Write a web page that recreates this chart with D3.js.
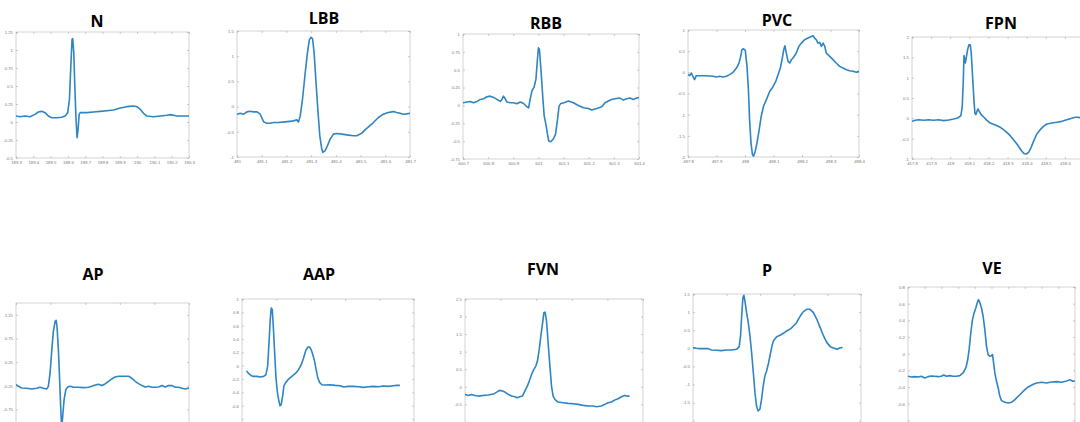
<!DOCTYPE html>
<html><head><meta charset="utf-8">
<script src="https://cdn.jsdelivr.net/npm/d3@7"></script>
<style>html,body{margin:0;padding:0;background:#fff;overflow:hidden}</style>
</head><body>
<svg id="chart" width="1080" height="422"></svg>
<script>
// ---------- DATA ----------
const titles = ["N", "LBB", "RBB", "PVC", "FPN", "AP", "AAP", "FVN", "P", "VE"];

// [time (s), amplitude (mV)]
const sigN = [[189.300,0.083],[189.323,0.074],[189.352,0.083],[189.381,0.074],[189.410,0.106],[189.429,0.139],[189.449,0.148],[189.468,0.130],[189.487,0.083],[189.507,0.060],[189.536,0.060],[189.564,0.065],[189.584,0.083],[189.599,0.130],[189.609,0.315],[189.617,0.778],[189.624,1.148],[189.628,1.157],[189.634,0.963],[189.640,0.500],[189.647,0.037],[189.653,-0.218],[189.659,-0.102],[189.665,0.106],[189.671,0.130],[189.709,0.130],[189.748,0.139],[189.786,0.148],[189.825,0.157],[189.864,0.167],[189.902,0.194],[189.941,0.213],[189.980,0.222],[189.999,0.213],[190.018,0.176],[190.037,0.120],[190.057,0.083],[190.095,0.074],[190.134,0.083],[190.173,0.093],[190.192,0.102],[190.231,0.083],[190.269,0.083],[190.300,0.083]];

const sigLBB = [[481.000,-0.151],[481.013,-0.132],[481.027,-0.151],[481.040,-0.105],[481.054,-0.092],[481.067,-0.105],[481.081,-0.105],[481.094,-0.151],[481.108,-0.303],[481.121,-0.329],[481.135,-0.329],[481.148,-0.316],[481.168,-0.316],[481.195,-0.303],[481.222,-0.289],[481.242,-0.263],[481.249,-0.303],[481.256,-0.184],[481.265,0.145],[481.276,0.671],[481.285,1.066],[481.293,1.329],[481.300,1.375],[481.306,1.342],[481.312,1.066],[481.319,0.539],[481.327,-0.053],[481.335,-0.579],[481.343,-0.842],[481.347,-0.908],[481.357,-0.875],[481.366,-0.776],[481.377,-0.645],[481.390,-0.546],[481.404,-0.533],[481.424,-0.546],[481.451,-0.566],[481.471,-0.579],[481.485,-0.579],[481.505,-0.526],[481.518,-0.461],[481.532,-0.401],[481.552,-0.316],[481.572,-0.217],[481.592,-0.151],[481.612,-0.118],[481.633,-0.099],[481.646,-0.118],[481.660,-0.132],[481.673,-0.151],[481.687,-0.145],[481.700,-0.132]];

const sigRBB = [[600.700,0.037],[600.716,0.047],[600.729,0.056],[600.742,0.037],[600.756,0.056],[600.769,0.084],[600.782,0.093],[600.795,0.121],[600.808,0.130],[600.822,0.112],[600.835,0.084],[600.848,0.056],[600.855,0.084],[600.861,0.130],[600.868,0.093],[600.875,0.047],[600.888,0.037],[600.901,0.037],[600.914,0.023],[600.928,0.047],[600.941,0.028],[600.951,-0.009],[600.961,-0.033],[600.967,0.084],[600.974,0.200],[600.983,0.261],[600.990,0.364],[600.996,0.643],[601.000,0.807],[601.004,0.783],[601.010,0.503],[601.018,0.084],[601.023,-0.149],[601.031,-0.289],[601.036,-0.406],[601.041,-0.499],[601.049,-0.508],[601.060,-0.466],[601.068,-0.406],[601.076,-0.196],[601.082,-0.009],[601.089,0.028],[601.102,0.037],[601.119,0.061],[601.139,0.037],[601.159,0.000],[601.179,-0.033],[601.199,-0.042],[601.212,-0.065],[601.232,-0.042],[601.252,-0.019],[601.265,0.037],[601.278,0.061],[601.291,0.084],[601.305,0.093],[601.324,0.103],[601.338,0.075],[601.351,0.093],[601.364,0.103],[601.377,0.084],[601.391,0.103],[601.400,0.112]];

const sigPVC = [[497.800,-0.055],[497.806,-0.079],[497.812,-0.016],[497.818,-0.110],[497.823,-0.173],[497.829,-0.079],[497.841,-0.079],[497.858,-0.079],[497.876,-0.086],[497.888,-0.094],[497.899,-0.110],[497.911,-0.094],[497.923,-0.110],[497.935,-0.094],[497.946,-0.055],[497.958,0.000],[497.970,0.102],[497.979,0.220],[497.985,0.377],[497.989,0.534],[497.995,0.558],[498.001,0.518],[498.007,0.141],[498.012,-0.409],[498.016,-1.116],[498.021,-1.666],[498.026,-1.940],[498.030,-1.980],[498.036,-1.862],[498.042,-1.666],[498.049,-1.390],[498.057,-1.037],[498.065,-0.801],[498.075,-0.644],[498.087,-0.448],[498.098,-0.346],[498.108,-0.212],[498.116,-0.055],[498.124,0.102],[498.131,0.338],[498.136,0.534],[498.140,0.628],[498.145,0.456],[498.151,0.259],[498.157,0.220],[498.163,0.299],[498.171,0.361],[498.180,0.456],[498.189,0.613],[498.198,0.691],[498.209,0.770],[498.221,0.809],[498.233,0.848],[498.239,0.864],[498.244,0.809],[498.250,0.770],[498.256,0.691],[498.262,0.707],[498.268,0.613],[498.274,0.691],[498.280,0.613],[498.285,0.456],[498.297,0.377],[498.309,0.299],[498.320,0.220],[498.332,0.141],[498.344,0.102],[498.356,0.063],[498.367,0.039],[498.379,0.024],[498.391,0.000],[498.400,0.024]];

const sigFPN = [[417.800,-0.074],[417.817,-0.049],[417.835,-0.033],[417.861,-0.049],[417.887,-0.033],[417.913,-0.049],[417.939,-0.033],[417.965,-0.057],[417.992,-0.041],[418.018,-0.016],[418.039,0.008],[418.056,0.066],[418.063,0.295],[418.068,0.869],[418.072,1.541],[418.075,1.484],[418.079,1.361],[418.084,1.484],[418.091,1.689],[418.098,1.811],[418.105,1.811],[418.110,1.607],[418.117,1.033],[418.124,0.459],[418.129,0.131],[418.134,0.090],[418.140,0.172],[418.145,0.230],[418.152,0.172],[418.162,0.090],[418.175,0.033],[418.192,-0.049],[418.209,-0.115],[418.236,-0.164],[418.262,-0.221],[418.279,-0.279],[418.296,-0.344],[418.314,-0.426],[418.331,-0.525],[418.349,-0.631],[418.363,-0.730],[418.375,-0.811],[418.387,-0.869],[418.398,-0.877],[418.410,-0.836],[418.422,-0.730],[418.436,-0.566],[418.453,-0.385],[418.471,-0.279],[418.488,-0.197],[418.506,-0.139],[418.532,-0.115],[418.558,-0.098],[418.584,-0.074],[418.610,-0.033],[418.627,-0.008],[418.654,0.025],[418.671,0.025],[418.688,0.000],[418.701,-0.016]];

const sigAP = [[0,-0.225],[0.014,-0.261],[0.033,-0.296],[0.062,-0.303],[0.091,-0.317],[0.120,-0.303],[0.139,-0.282],[0.158,-0.303],[0.178,-0.317],[0.187,-0.261],[0.197,0.021],[0.207,0.514],[0.216,0.901],[0.226,1.113],[0.232,1.134],[0.237,1.007],[0.245,0.514],[0.253,-0.190],[0.259,-0.754],[0.264,-1.150],[0.270,-0.894],[0.278,-0.542],[0.288,-0.331],[0.299,-0.275],[0.313,-0.261],[0.332,-0.282],[0.361,-0.282],[0.390,-0.289],[0.419,-0.282],[0.438,-0.261],[0.458,-0.232],[0.477,-0.218],[0.496,-0.246],[0.515,-0.211],[0.535,-0.155],[0.554,-0.106],[0.573,-0.063],[0.593,-0.049],[0.622,-0.049],[0.651,-0.049],[0.670,-0.092],[0.689,-0.155],[0.708,-0.204],[0.728,-0.246],[0.747,-0.275],[0.766,-0.261],[0.786,-0.282],[0.805,-0.282],[0.824,-0.275],[0.844,-0.246],[0.863,-0.275],[0.882,-0.246],[0.902,-0.246],[0.921,-0.282],[0.940,-0.282],[0.959,-0.303],[0.979,-0.317],[1,-0.296]];

const sigAAP = [[0.029,-0.085],[0.039,-0.120],[0.054,-0.150],[0.068,-0.160],[0.087,-0.160],[0.106,-0.170],[0.126,-0.160],[0.139,-0.135],[0.149,-0.010],[0.157,0.340],[0.164,0.690],[0.170,0.865],[0.176,0.840],[0.182,0.590],[0.190,0.190],[0.197,-0.160],[0.205,-0.385],[0.213,-0.510],[0.221,-0.600],[0.228,-0.585],[0.236,-0.460],[0.244,-0.300],[0.255,-0.250],[0.271,-0.200],[0.290,-0.160],[0.309,-0.120],[0.329,-0.060],[0.344,0.015],[0.358,0.115],[0.371,0.230],[0.383,0.280],[0.393,0.280],[0.402,0.240],[0.412,0.165],[0.422,0.065],[0.431,-0.060],[0.441,-0.185],[0.451,-0.250],[0.464,-0.285],[0.484,-0.290],[0.513,-0.285],[0.542,-0.295],[0.571,-0.300],[0.590,-0.320],[0.619,-0.310],[0.648,-0.310],[0.677,-0.315],[0.706,-0.325],[0.735,-0.315],[0.764,-0.310],[0.793,-0.315],[0.822,-0.305],[0.851,-0.310],[0.880,-0.300],[0.899,-0.295],[0.915,-0.295]];

const sigFVN = [[0,-0.218],[0.019,-0.247],[0.037,-0.218],[0.056,-0.247],[0.075,-0.266],[0.103,-0.247],[0.131,-0.237],[0.159,-0.209],[0.178,-0.152],[0.193,-0.104],[0.206,-0.114],[0.224,-0.152],[0.243,-0.218],[0.262,-0.266],[0.280,-0.285],[0.293,-0.313],[0.308,-0.285],[0.323,-0.266],[0.336,-0.123],[0.350,0.019],[0.361,0.161],[0.374,0.351],[0.387,0.493],[0.398,0.588],[0.407,0.731],[0.417,1.063],[0.426,1.442],[0.436,1.822],[0.443,2.106],[0.450,2.125],[0.458,1.869],[0.467,1.252],[0.477,0.588],[0.486,0.019],[0.495,-0.266],[0.505,-0.361],[0.523,-0.436],[0.551,-0.455],[0.579,-0.474],[0.607,-0.484],[0.636,-0.503],[0.664,-0.531],[0.692,-0.550],[0.720,-0.550],[0.738,-0.569],[0.766,-0.550],[0.785,-0.503],[0.804,-0.455],[0.822,-0.436],[0.841,-0.380],[0.860,-0.342],[0.879,-0.285],[0.897,-0.247],[0.910,-0.266],[0.921,-0.266]];

const sigP = [[0,0.018],[0.020,0.000],[0.040,-0.009],[0.070,-0.009],[0.090,-0.009],[0.110,-0.046],[0.139,-0.055],[0.169,-0.064],[0.199,-0.046],[0.229,-0.046],[0.259,-0.028],[0.275,0.046],[0.283,0.341],[0.291,0.985],[0.297,1.400],[0.303,1.464],[0.309,1.308],[0.319,0.985],[0.329,0.709],[0.339,0.341],[0.349,-0.120],[0.359,-0.672],[0.369,-1.225],[0.378,-1.593],[0.388,-1.731],[0.398,-1.685],[0.408,-1.409],[0.418,-1.041],[0.428,-0.764],[0.438,-0.626],[0.448,-0.442],[0.458,-0.212],[0.468,0.018],[0.478,0.203],[0.498,0.322],[0.518,0.359],[0.538,0.414],[0.558,0.479],[0.582,0.543],[0.598,0.617],[0.614,0.691],[0.627,0.801],[0.641,0.912],[0.657,1.013],[0.677,1.077],[0.697,1.077],[0.717,0.985],[0.737,0.801],[0.757,0.571],[0.777,0.341],[0.797,0.157],[0.817,0.046],[0.837,0.009],[0.857,-0.028],[0.873,0.009],[0.886,0.018]];

const sigVE = [[0,-0.272],[0.02,-0.280],[0.04,-0.276],[0.06,-0.280],[0.08,-0.272],[0.10,-0.292],[0.12,-0.276],[0.14,-0.268],[0.16,-0.272],[0.18,-0.276],[0.20,-0.272],[0.214,-0.256],[0.23,-0.272],[0.25,-0.264],[0.27,-0.272],[0.29,-0.272],[0.31,-0.264],[0.33,-0.232],[0.346,-0.172],[0.356,-0.092],[0.366,0.048],[0.376,0.248],[0.386,0.408],[0.396,0.488],[0.406,0.548],[0.414,0.608],[0.422,0.648],[0.43,0.616],[0.44,0.548],[0.45,0.448],[0.46,0.288],[0.47,0.088],[0.48,-0.012],[0.49,-0.032],[0.50,-0.024],[0.506,-0.012],[0.51,-0.072],[0.52,-0.232],[0.53,-0.332],[0.54,-0.412],[0.55,-0.512],[0.56,-0.564],[0.58,-0.584],[0.60,-0.592],[0.62,-0.584],[0.64,-0.552],[0.66,-0.512],[0.68,-0.472],[0.70,-0.432],[0.72,-0.400],[0.75,-0.368],[0.77,-0.352],[0.80,-0.344],[0.83,-0.352],[0.86,-0.340],[0.89,-0.336],[0.92,-0.344],[0.95,-0.328],[0.97,-0.312],[0.986,-0.332],[1,-0.328]];

const signals = [sigN, sigLBB, sigRBB, sigPVC, sigFPN, sigAP, sigAAP, sigFVN, sigP, sigVE];

// axis ranges and tick steps per panel
const xDomains = [[189.3,190.3],[481,481.7],[600.7,601.4],[497.8,498.4],[417.8,418.7],[0,1],[0,1],[0,1],[0,1],[0,1]];
const xSteps   = [0.1,0.1,0.1,0.1,0.1,0.2,0.2,0.2,0.2,0.1];
const yDomains = [[-0.5,1.25],[-1,1.5],[-0.75,1],[-2,1],[-1,2],[-1.25,1.5],[-1,1],[-1.5,2.5],[-2.5,1.5],[-1,0.8]];
const ySteps   = [0.25,0.5,0.25,0.5,0.5,0.5,0.2,0.5,0.5,0.2];

// ---------- LAYOUT ----------
const W = 1080, H = 422;
const boxes = [
  {x0:16,  x1:189,  y0:32,  y1:158, tx:97,   ty:27, xl:true},
  {x0:237, x1:410,  y0:31,  y1:157, tx:324,  ty:24, xl:true},
  {x0:463, x1:639,  y0:34,  y1:159, tx:546,  ty:29, xl:true},
  {x0:688, x1:859,  y0:30,  y1:157, tx:777,  ty:26, xl:true},
  {x0:912, x1:1084, y0:37,  y1:159, tx:1001, ty:29, xl:true},
  {x0:16,  x1:189,  y0:303, tx:93,   ty:280, xl:false},
  {x0:242, x1:414,  y0:299, tx:319,  ty:280, xl:false},
  {x0:465, x1:643,  y0:299, tx:543,  ty:275, xl:false},
  {x0:693, x1:861,  y0:294, tx:767,  ty:276, xl:false},
  {x0:908, x1:1075, y0:287, tx:992,  ty:274, xl:false}
];
// px per unit for the bottom row (frames run past the picture edge)
const bottomPxPerUnit = {5:47.3, 6:66.7, 7:35.1, 8:36.2, 9:83.3};

const svg = d3.select("#chart");
const fmt = v => String(+v.toFixed(3));
const lineColor = "#2f84c2";

titles.forEach((name, i) => {
  const b = boxes[i];
  const yd = yDomains[i];
  const y1 = b.y1 !== undefined ? b.y1 : b.y0 + (yd[1] - yd[0]) * bottomPxPerUnit[i];
  const x = d3.scaleLinear().domain(xDomains[i]).range([b.x0, b.x1]);
  const y = d3.scaleLinear().domain(yd).range([y1, b.y0]);
  const g = svg.append("g");

  const xt = d3.range(xDomains[i][0], xDomains[i][1] + 1e-9, xSteps[i]).map(v => +v.toFixed(4));
  const yt = d3.range(yd[0], yd[1] + 1e-9, ySteps[i]).map(v => +v.toFixed(4));
  // labels only where they fall inside the picture
  const xLabelled = v => b.xl && x(v) + 7 <= W;
  const yLabelled = v => y(v) + 3 <= H;

  // frame
  g.append("rect").attr("x", b.x0).attr("y", b.y0).attr("width", b.x1 - b.x0).attr("height", y1 - b.y0)
    .attr("fill", "#fff").attr("stroke", "#c8c8c8").attr("stroke-width", 0.8);

  const styleAxis = sel => {
    sel.select(".domain").remove();
    sel.selectAll("line").attr("stroke", "#aaa").attr("stroke-width", 0.6);
    sel.selectAll("text").attr("fill", "#777").attr("font-size", 4.3).attr("font-family", "Liberation Sans, Arial, sans-serif");
  };
  g.append("g").attr("transform", `translate(0,${y1})`)
    .call(d3.axisBottom(x).tickValues(xt).tickSizeInner(-2).tickSizeOuter(0).tickPadding(3).tickFormat(v => xLabelled(v) ? fmt(v) : ""))
    .call(styleAxis);
  g.append("g").attr("transform", `translate(0,${b.y0})`)
    .call(d3.axisTop(x).tickValues(xt).tickSizeInner(-2).tickSizeOuter(0).tickFormat(""))
    .call(styleAxis);
  g.append("g").attr("transform", `translate(${b.x0},0)`)
    .call(d3.axisLeft(y).tickValues(yt).tickSizeInner(-2).tickSizeOuter(0).tickPadding(3).tickFormat(v => yLabelled(v) ? fmt(v) : ""))
    .call(styleAxis);
  g.append("g").attr("transform", `translate(${b.x1},0)`)
    .call(d3.axisRight(y).tickValues(yt).tickSizeInner(-2).tickSizeOuter(0).tickFormat(""))
    .call(styleAxis);
  g.selectAll("text").filter(function(){ return this.textContent === ""; }).remove();

  // clip + signal line
  const cid = "clip" + i;
  svg.append("clipPath").attr("id", cid).append("rect")
    .attr("x", b.x0).attr("y", b.y0 - 1).attr("width", b.x1 - b.x0).attr("height", y1 - b.y0 + 2);
  g.append("path").datum(signals[i])
    .attr("clip-path", `url(#${cid})`)
    .attr("fill", "none").attr("stroke", lineColor).attr("stroke-width", 1.6)
    .attr("stroke-linejoin", "round").attr("stroke-linecap", "round")
    .attr("d", d3.line().x(d => x(d[0])).y(d => y(d[1])));

  // title
  svg.append("text").attr("x", b.tx).attr("y", b.ty).attr("text-anchor", "middle")
    .attr("font-family", "Open Sans, Lato, sans-serif").attr("font-weight", 700).attr("font-size", 16)
    .attr("fill", "#000").text(name);
});
</script>
</body></html>
